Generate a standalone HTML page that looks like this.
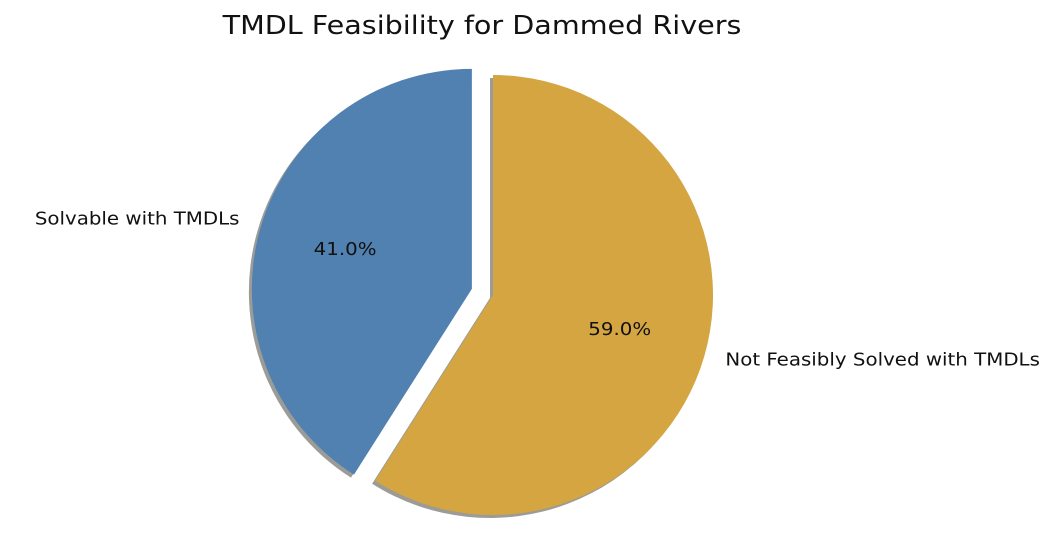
<!DOCTYPE html>
<html><head><meta charset="utf-8"><style>
html,body{margin:0;padding:0;background:#fff;}
svg text{font-family:"DejaVu Sans","Liberation Sans",sans-serif;}
</style></head><body>
<svg id="chart" width="1062" height="538" viewBox="0 0 1062 538" xmlns="http://www.w3.org/2000/svg">
<text id="title" x="482" y="34" text-anchor="middle" font-size="26" fill="#111">TMDL Feasibility for Dammed Rivers</text>
<g id="shadows"></g>
<g id="wedges"></g>
<g id="labels"></g>
</svg>
<script>
const categories = ["Solvable with TMDLs", "Not Feasibly Solved with TMDLs"];
const values = [41.0, 59.0];
const explode = [0.1, 0];
const colors = ["#5181b0", "#d4a541"];
const cx = 493, cy = 295, R = 220, startAngle = 90;
const ns = "http://www.w3.org/2000/svg";
const total = values.reduce((a,b)=>a+b,0);
const sh = document.getElementById('shadows'), wg = document.getElementById('wedges'), lb = document.getElementById('labels');
function stretch(el){const w=el.getComputedTextLength();el.setAttribute('textLength',w*1.1);el.setAttribute('lengthAdjust','spacingAndGlyphs');}
let a0 = startAngle;
function pt(x,y,r,deg){const t=deg*Math.PI/180;return [x+r*Math.cos(t), y-r*Math.sin(t)];}
values.forEach((v,i)=>{
  const sweep = v/total*360;
  const a1 = a0 + sweep, mid = (a0+a1)/2;
  const [ox,oy] = pt(cx,cy,explode[i]*R,mid);
  const p0 = pt(ox,oy,R,a0), p1 = pt(ox,oy,R,a1);
  const large = sweep>180?1:0;
  const d = `M${ox},${oy} L${p0[0]},${p0[1]} A${R},${R} 0 ${large} 0 ${p1[0]},${p1[1]} Z`;
  const s = document.createElementNS(ns,'path');
  s.setAttribute('d',d); s.setAttribute('fill','#8a8a86'); s.setAttribute('opacity','0.85');
  s.setAttribute('transform','translate(-3,3)');
  
  
  sh.appendChild(s);
  const w = document.createElementNS(ns,'path');
  w.setAttribute('d',d); w.setAttribute('fill',colors[i]);
  
  
  wg.appendChild(w);
  const [lx,ly] = pt(ox,oy,R*1.1,mid);
  const t = document.createElementNS(ns,'text');
  t.setAttribute('x',lx); t.setAttribute('y',ly+3);
  t.setAttribute('text-anchor', Math.cos(mid*Math.PI/180)<0?'end':'start');
  t.setAttribute('font-size','18'); t.setAttribute('fill','#111');
  t.textContent = categories[i];
  
  
  lb.appendChild(t); stretch(t);
  const [px,py] = pt(ox,oy,R*0.6,mid);
  const q = document.createElementNS(ns,'text');
  q.setAttribute('x',px); q.setAttribute('y',py+3);
  q.setAttribute('text-anchor','middle');
  q.setAttribute('font-size','18'); q.setAttribute('fill','#111');
  q.textContent = (v/total*100).toFixed(1)+'%';
  
  
  lb.appendChild(q); stretch(q);
  a0 = a1;
});
stretch(document.getElementById('title'));
</script>
</body></html>
